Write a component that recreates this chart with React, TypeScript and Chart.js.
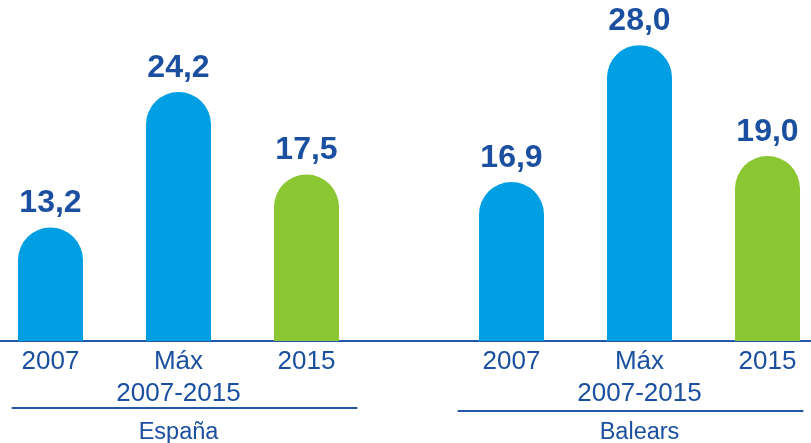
import React, { useEffect, useRef } from "react";
import { Chart, registerables } from "chart.js";

Chart.register(...registerables);

const groups = ["España", "Balears"];
const seriesNames: (string | string[])[] = ["2007", ["Máx", "2007-2015"], "2015"];
const values2007 = [13.2, 16.9];
const valuesMax = [24.2, 28.0];
const values2015 = [17.5, 19.0];

const BLUE = "#009FE3";
const GREEN = "#8AC733";
const TEXT = "#1B4FA0";
const LINE = "#2458A6";
const FONT = "'Liberation Sans', Arial, sans-serif";

const labelsPlugin = {
  id: "customLabels",
  afterDatasetsDraw(chart: any) {
    const ctx = chart.ctx;
    const area = chart.chartArea;
    const xScale = chart.scales.x;
    ctx.save();
    chart.data.datasets.forEach((ds: any, di: number) => {
      const meta = chart.getDatasetMeta(di);
      meta.data.forEach((bar: any, i: number) => {
        const v = ds.data[i] as number;
        ctx.font = `bold 32px ${FONT}`;
        ctx.fillStyle = TEXT;
        ctx.textAlign = "center";
        ctx.textBaseline = "middle";
        ctx.fillText(v.toFixed(1).replace(".", ","), bar.x, bar.y - 24);
        const name = seriesNames[di];
        const lines = Array.isArray(name) ? name : [name];
        ctx.font = `26px ${FONT}`;
        ctx.textBaseline = "alphabetic";
        lines.forEach((ln, li) => {
          ctx.fillText(ln, bar.x, area.bottom + 28 + li * 32);
        });
      });
    });
    const catW = xScale.width / chart.data.labels.length;
    ctx.strokeStyle = LINE;
    ctx.lineWidth = 2;
    chart.data.labels.forEach((_: any, i: number) => {
      const cx = xScale.getPixelForValue(i);
      const y = area.bottom + 67 + i * 3;
      const shift = i === 0 ? 6 : -9;
      ctx.beginPath();
      ctx.moveTo(cx + shift - 0.375 * catW, y);
      ctx.lineTo(cx + shift + 0.375 * catW, y);
      ctx.stroke();
    });
    ctx.restore();
  },
};

export default function App() {
  const ref = useRef<HTMLCanvasElement>(null);
  useEffect(() => {
    if (!ref.current) return;
    const radius = { topLeft: 33, topRight: 33, bottomLeft: 0, bottomRight: 0 };
    const common = {
      borderRadius: radius,
      borderSkipped: false as any,
      categoryPercentage: 0.833,
      barPercentage: 0.508,
    };
    const chart = new Chart(ref.current, {
      type: "bar",
      data: {
        labels: groups,
        datasets: [
          { label: "2007", data: values2007, backgroundColor: BLUE, ...common },
          { label: "Máx 2007-2015", data: valuesMax, backgroundColor: BLUE, ...common },
          { label: "2015", data: values2015, backgroundColor: GREEN, ...common },
        ],
      },
      options: {
        animation: false,
        responsive: false,
        devicePixelRatio: 1,
        layout: { padding: { top: 2, left: 0, right: 0, bottom: 0 } },
        plugins: { legend: { display: false }, tooltip: { enabled: false } },
        scales: {
          x: {
            grid: { display: false, drawTicks: false },
            border: { display: true, color: LINE, width: 2 },
            ticks: { color: TEXT, font: { family: FONT, size: 23.5 }, padding: 77 },
            afterFit: (scale: any) => {
              scale.height = 102;
            },
          },
          y: {
            display: false,
            min: 4,
            max: 31.5,
          },
        },
      },
      plugins: [labelsPlugin],
    });
    return () => chart.destroy();
  }, []);
  return (
    <div
      style={{
        position: "fixed",
        left: 0,
        top: 0,
        width: 811,
        height: 443,
        overflow: "hidden",
        background: "#fff",
      }}
    >
      <div style={{ position: "absolute", left: -52, top: 0, width: 922, height: 443 }}>
        <canvas ref={ref} width={922} height={443} style={{ display: "block" }} />
      </div>
    </div>
  );
}
